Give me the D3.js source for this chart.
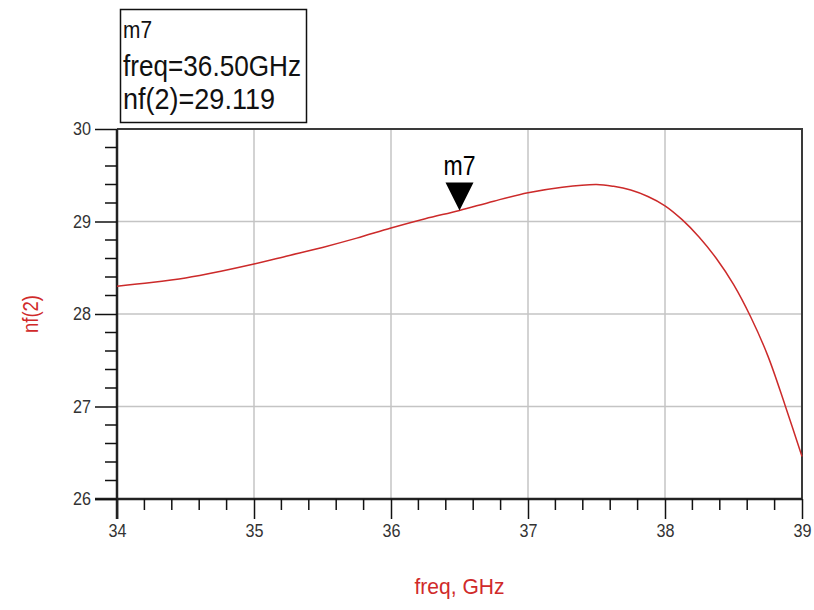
<!DOCTYPE html>
<html>
<head>
<meta charset="utf-8">
<script src="https://cdn.jsdelivr.net/npm/d3@7"></script>
<style>
  body { margin: 0; background: #fff; }
  svg text { font-family: "Liberation Sans", Arial, sans-serif; }
</style>
</head>
<body>
<div id="chart"></div>
<script>
// nf(2) vs freq
const freq = [34.0, 34.25, 34.5, 34.75, 35.0, 35.25, 35.5, 35.75, 36.0, 36.25, 36.5, 36.75,
              37.0, 37.25, 37.5, 37.625, 37.75, 37.875, 38.0, 38.125, 38.25, 38.375, 38.5,
              38.625, 38.75, 38.875, 39.0];
const nf = [28.30, 28.34, 28.39, 28.46, 28.54, 28.63, 28.72, 28.82, 28.93, 29.03, 29.12, 29.22,
            29.31, 29.37, 29.40, 29.38, 29.34, 29.27, 29.17, 29.02, 28.83, 28.60, 28.32,
            27.97, 27.55, 27.02, 26.46];

const xTicks = [34, 35, 36, 37, 38, 39];
const yTicks = [26, 27, 28, 29, 30];

const marker = { name: "m7", freq: 36.5, value: 29.119 };
const markerLines = ["m7", "freq=36.50GHz", "nf(2)=29.119"];

// squeeze text to look like the narrow font of the original
function narrow(sel, w) {
    sel.attr("textLength", w).attr("lengthAdjust", "spacingAndGlyphs");
}

function draw() {
    const width = 814, height = 610;
    const margin = { left: 117, right: 12, top: 129, bottom: 111 };

    const svg = d3.select("#chart").append("svg")
        .attr("width", width)
        .attr("height", height);

    const x = d3.scaleLinear().domain([34, 39]).range([margin.left, width - margin.right]);
    const y = d3.scaleLinear().domain([26, 30]).range([height - margin.bottom, margin.top]);

    // grid
    svg.append("g").selectAll("line")
        .data(xTicks.slice(1, -1))
        .join("line")
        .attr("x1", d => x(d)).attr("x2", d => x(d))
        .attr("y1", y(30)).attr("y2", y(26))
        .attr("stroke", "#c4c4c4").attr("stroke-width", 1.5);
    svg.append("g").selectAll("line")
        .data(yTicks.slice(1, -1))
        .join("line")
        .attr("x1", x(34)).attr("x2", x(39))
        .attr("y1", d => y(d)).attr("y2", d => y(d))
        .attr("stroke", "#c4c4c4").attr("stroke-width", 1.5);

    // frame (top / right)
    svg.append("path")
        .attr("d", `M${x(34)},${y(30)}H${x(39)}V${y(26)}`)
        .attr("fill", "none").attr("stroke", "#3a3a3a").attr("stroke-width", 2);

    // axes
    const xAxis = d3.axisBottom(x).tickValues(xTicks).tickSize(20).tickPadding(5)
        .tickFormat(d3.format("d"));
    const gx = svg.append("g").attr("transform", `translate(0,${y(26)})`).call(xAxis);
    gx.append("g").selectAll("line")
        .data(d3.range(34, 39, 0.2).filter(v => Math.abs(v - Math.round(v)) > 0.01))
        .join("line")
        .attr("x1", d => x(d)).attr("x2", d => x(d))
        .attr("y1", 0).attr("y2", 11)
        .attr("stroke", "#111").attr("stroke-width", 1.5);

    const yAxis = d3.axisLeft(y).tickValues(yTicks).tickSize(22).tickPadding(4)
        .tickFormat(d3.format("d"));
    const gy = svg.append("g").attr("transform", `translate(${x(34)},0)`).call(yAxis);
    gy.append("g").selectAll("line")
        .data(d3.range(26, 30, 0.2).filter(v => Math.abs(v - Math.round(v)) > 0.01))
        .join("line")
        .attr("x1", -12).attr("x2", 0)
        .attr("y1", d => y(d)).attr("y2", d => y(d))
        .attr("stroke", "#111").attr("stroke-width", 1.5);

    [gx, gy].forEach(g => {
        g.select(".domain").attr("stroke", "#222").attr("stroke-width", 2.5);
        g.selectAll(".tick line").attr("stroke", "#111").attr("stroke-width", 1.5);
        g.selectAll(".tick text").attr("fill", "#333").attr("font-size", 18)
            .attr("font-family", "\"Liberation Sans\", Arial, sans-serif")
            .call(narrow, 18);
    });
    gy.select(".domain").attr("d", `M0,${y(30)}V${y(26) + 20}`);
    gx.select(".domain").attr("d", `M${x(34) - 22},0H${x(39)}`);

    // curve
    const line = d3.line()
        .x((d, i) => x(freq[i]))
        .y(d => y(d))
        .curve(d3.curveCatmullRom);
    svg.append("path")
        .datum(nf)
        .attr("d", line)
        .attr("fill", "none")
        .attr("stroke", "#cc2a2a")
        .attr("stroke-width", 1.5);

    // marker
    const mx = x(marker.freq), my = y(marker.value);
    svg.append("path")
        .attr("d", `M${mx},${my}L${mx - 14},${my - 28}L${mx + 14},${my - 28}Z`)
        .attr("fill", "#000");
    svg.append("text")
        .attr("x", mx - 16).attr("y", my - 35)
        .attr("font-size", 27)
        .text(marker.name)
        .call(narrow, 32);

    // marker readout box
    svg.append("rect")
        .attr("x", 120.5).attr("y", 9.5)
        .attr("width", 186).attr("height", 113)
        .attr("fill", "#fff").attr("stroke", "#111").attr("stroke-width", 1.5);
    const baselines = [38, 76, 109];
    const sizes = [23, 29.5, 29.5];
    const widths = [29, 178, 152];
    svg.append("g").selectAll("text")
        .data(markerLines)
        .join("text")
        .attr("x", 123)
        .attr("y", (d, i) => baselines[i])
        .attr("font-size", (d, i) => sizes[i])
        .attr("textLength", (d, i) => widths[i])
        .attr("lengthAdjust", "spacingAndGlyphs")
        .attr("fill", "#111")
        .text(d => d);

    // axis titles
    svg.append("text")
        .attr("x", x(36.5)).attr("y", 594)
        .attr("text-anchor", "middle")
        .attr("font-size", 22)
        .attr("fill", "#d02a2a")
        .text("freq, GHz")
        .call(narrow, 90);
    svg.append("text")
        .attr("transform", `translate(38,${y(28)}) rotate(-90)`)
        .attr("text-anchor", "middle")
        .attr("font-size", 22)
        .attr("fill", "#d02a2a")
        .text("nf(2)")
        .call(narrow, 38);
}

draw();
</script>
</body>
</html>
